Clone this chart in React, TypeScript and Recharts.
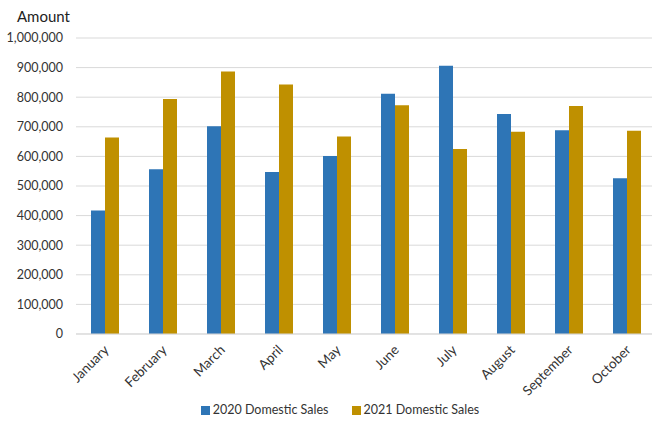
import { Bar, BarChart, CartesianGrid, Legend, XAxis, YAxis } from "recharts";

const months = ["January", "February", "March", "April", "May", "June", "July", "August", "September", "October"];
const sales2020 = [417000, 557000, 702000, 547000, 601000, 812000, 906000, 743000, 688000, 526000];
const sales2021 = [664000, 794000, 887000, 843000, 667000, 773000, 625000, 683000, 770000, 687000];
const yTicks = [0, 100000, 200000, 300000, 400000, 500000, 600000, 700000, 800000, 900000, 1000000];
const seriesNames = ["2020 Domestic Sales", "2021 Domestic Sales"];
const seriesColors = ["#2E75B6", "#BF9000"];

const FONT = "Lato, 'Open Sans', sans-serif";

function LegendRow() {
  return (
    <div style={{ display: "flex", justifyContent: "center", gap: 23, fontSize: 12.5, lineHeight: "16px", color: "#333", paddingLeft: 24 }}>
      {seriesNames.map((n, i) => (
        <span key={n} style={{ display: "flex", alignItems: "center", gap: 3 }}>
          <span style={{ width: 9, height: 9, background: seriesColors[i], display: "inline-block" }} />
          {n}
        </span>
      ))}
    </div>
  );
}

export default function App() {
  const data = months.map((m, i) => ({ month: m, s2020: sales2020[i], s2021: sales2021[i] }));

  return (
    <div style={{ position: "absolute", left: 0, top: 0, width: 652, height: 421, overflow: "hidden", background: "#fff", fontFamily: FONT }}>
      <div style={{ position: "absolute", left: 17, top: 7, fontSize: 15, color: "#222" }}>Amount</div>
      <BarChart
        width={660}
        height={421}
        data={data}
        margin={{ top: 38, right: 4, left: 0, bottom: 3 }}
        barCategoryGap={15}
        barGap={0}
      >
        <CartesianGrid vertical={false} stroke="#d9d9d9" strokeWidth={1} />
        <XAxis
          dataKey="month"
          interval={0}
          height={68}
          tickLine={false}
          axisLine={{ stroke: "#d9d9d9" }}
          angle={-45}
          textAnchor="end"
          dx={-2}
          dy={2}
          tick={{ fontSize: 13.5, fill: "#333", fontFamily: FONT }}
        />
        <YAxis
          width={76}
          domain={[0, 1000000]}
          ticks={yTicks}
          axisLine={false}
          tickLine={false}
          tickMargin={7}
          tickFormatter={(v: number) => v.toLocaleString("en-US")}
          tick={{ fontSize: 12.5, fill: "#333", fontFamily: FONT }}
        />
        <Legend verticalAlign="bottom" content={() => <LegendRow />} />
        <Bar dataKey="s2020" name={seriesNames[0]} fill={seriesColors[0]} isAnimationActive={false} />
        <Bar dataKey="s2021" name={seriesNames[1]} fill={seriesColors[1]} isAnimationActive={false} />
      </BarChart>
    </div>
  );
}
